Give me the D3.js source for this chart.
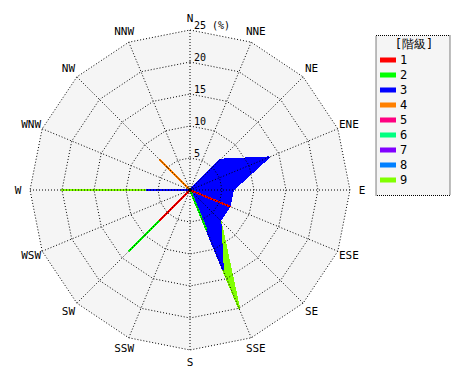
<!DOCTYPE html>
<html>
<head>
<meta charset="utf-8">
<script src="https://d3js.org/d3.v7.min.js"></script>
<style>
  body { margin: 0; background: #fff; }
  text { font-family: "DejaVu Sans Mono", monospace; fill: #000; }
</style>
</head>
<body>
<div id="rose"></div>
<script>
  const w = 470, h = 380
  const cx = 190, cy = 190, R = 160

  // 16 directions, clockwise from north
  const directions = ["N","NNE","NE","ENE","E","ESE","SE","SSE","S","SSW","SW","WSW","W","WNW","NW","NNW"]
  const ringTicks = [5, 10, 15, 20, 25]
  const ringLabels = ["5", "10", "15", "20", "25 (%)"]

  const classes = ["1","2","3","4","5","6","7","8","9"]
  const classColors = ["#ff0000","#00ff00","#0000ff","#ff8000","#ff0080","#00ff80","#8000ff","#0080ff","#80ff00"]

  // frequency (%) per direction for each class
  //                N   NNE  NE   ENE   E    ESE  SE   SSE  S  SSW  SW   WSW  W    WNW  NW   NNW
  const class1 = [0,  0,   0,   0,    0,   6.7, 0,   0,   0,  0,  6.7, 0,   0,   0,   0,   0]
  const class2 = [0,  0,   0,   0,    0,   0,   0,   6.7, 0,  0,  6.7, 0,   0,   0,   0,   0]
  const class3 = [0,  0,   6.7, 13.3, 6.7, 0,   6.7, 6.7, 0,  0,  0,   0,   6.7, 0,   0,   0]
  const class4 = [0,  0,   0,   0,    0,   0,   0,   0,   0,  0,  0,   0,   0,   0,   6.7, 0]
  const class5 = [0,  0,   0,   0,    0,   0,   0,   0,   0,  0,  0,   0,   0,   0,   0,   0]
  const class6 = [0,  0,   0,   0,    0,   0,   0,   0,   0,  0,  0,   0,   0,   0,   0,   0]
  const class7 = [0,  0,   0,   0,    0,   0,   0,   0,   0,  0,  0,   0,   0,   0,   0,   0]
  const class8 = [0,  0,   0,   0,    0,   0,   0,   0,   0,  0,  0,   0,   0,   0,   0,   0]
  const class9 = [0,  0,   0,   0,    0,   0,   0,   6.7, 0,  0,  0,   0,   13.3,0,   0,   0]
  const series = [class1, class2, class3, class4, class5, class6, class7, class8, class9]

  // cumulative values (stacked)
  const stacked = []
  series.forEach((vals, k) => {
    stacked.push(vals.map((v, i) => v + (k > 0 ? stacked[k-1][i] : 0)))
  })

  const r = d3.scaleLinear().domain([0, 25]).range([0, R])
  const step = 2*Math.PI / directions.length
  const ang = i => i * step

  const radial = d3.lineRadial()
    .angle((d, i) => ang(i))
    .radius(d => r(d))
    .curve(d3.curveLinearClosed)

  const svg = d3.select("#rose").append("svg")
    .attr("width", w).attr("height", h)

  const g = svg.append("g").attr("transform", `translate(${cx},${cy})`)

  // plot background
  g.append("path")
    .attr("d", radial(directions.map(() => 25)))
    .attr("fill", "#f5f5f5")

  // stacked class polygons, outermost first
  for (let k = series.length - 1; k >= 0; k--) {
    g.append("path")
      .attr("d", radial(stacked[k]))
      .attr("fill", classColors[k])
      .attr("stroke", classColors[k])
      .attr("stroke-width", 2)
      .attr("stroke-linejoin", "round")
      .attr("shape-rendering", "crispEdges")
  }

  // grid rings
  ringTicks.forEach(t => {
    g.append("path")
      .attr("d", radial(directions.map(() => t)))
      .attr("fill", "none")
      .attr("stroke", "#000")
      .attr("stroke-width", 1)
      .attr("stroke-dasharray", "1,2")
  })

  // spokes
  g.selectAll(".spoke")
    .data(directions)
    .enter().append("line")
      .attr("x1", 0).attr("y1", 0)
      .attr("x2", (d, i) => r(25) * Math.sin(ang(i)))
      .attr("y2", (d, i) => -r(25) * Math.cos(ang(i)))
      .attr("stroke", "#000")
      .attr("stroke-width", 1)
      .attr("stroke-dasharray", "1,2")

  g.append("circle").attr("r", 2).attr("fill", "#000")

  // ring labels
  g.selectAll(".rl")
    .data(ringTicks)
    .enter().append("text")
      .attr("x", 4)
      .attr("y", d => -r(d) - 1)
      .attr("font-size", "10px")
      .text((d, i) => ringLabels[i])

  // direction labels
  g.selectAll(".dl")
    .data(directions)
    .enter().append("text")
      .attr("x", (d, i) => 172 * Math.sin(ang(i)))
      .attr("y", (d, i) => -172 * Math.cos(ang(i)))
      .attr("text-anchor", "middle")
      .attr("dominant-baseline", "central")
      .attr("font-size", "11px")
      .text(d => d)

  // legend
  const lg = svg.append("g")
  lg.append("rect")
    .attr("x", 376).attr("y", 35.5)
    .attr("width", 74).attr("height", 160)
    .attr("fill", "#f5f5f5")
    .attr("stroke", "#000")
    .attr("stroke-dasharray", "1,1")
  lg.append("text")
    .attr("x", 414).attr("y", 48)
    .attr("text-anchor", "middle")
    .attr("font-size", "12px")
    .text("[階級]")

  const item = lg.selectAll(".item")
    .data(classes)
    .enter().append("g")
      .attr("transform", (d, i) => `translate(380, ${60 + i*15})`)
  item.append("rect")
    .attr("x", 0).attr("y", -2.5)
    .attr("width", 16).attr("height", 5)
    .attr("fill", (d, i) => classColors[i])
  item.append("text")
    .attr("x", 20).attr("y", 0)
    .attr("dominant-baseline", "central")
    .attr("font-size", "12px")
    .text(d => d)
</script>
</body>
</html>
